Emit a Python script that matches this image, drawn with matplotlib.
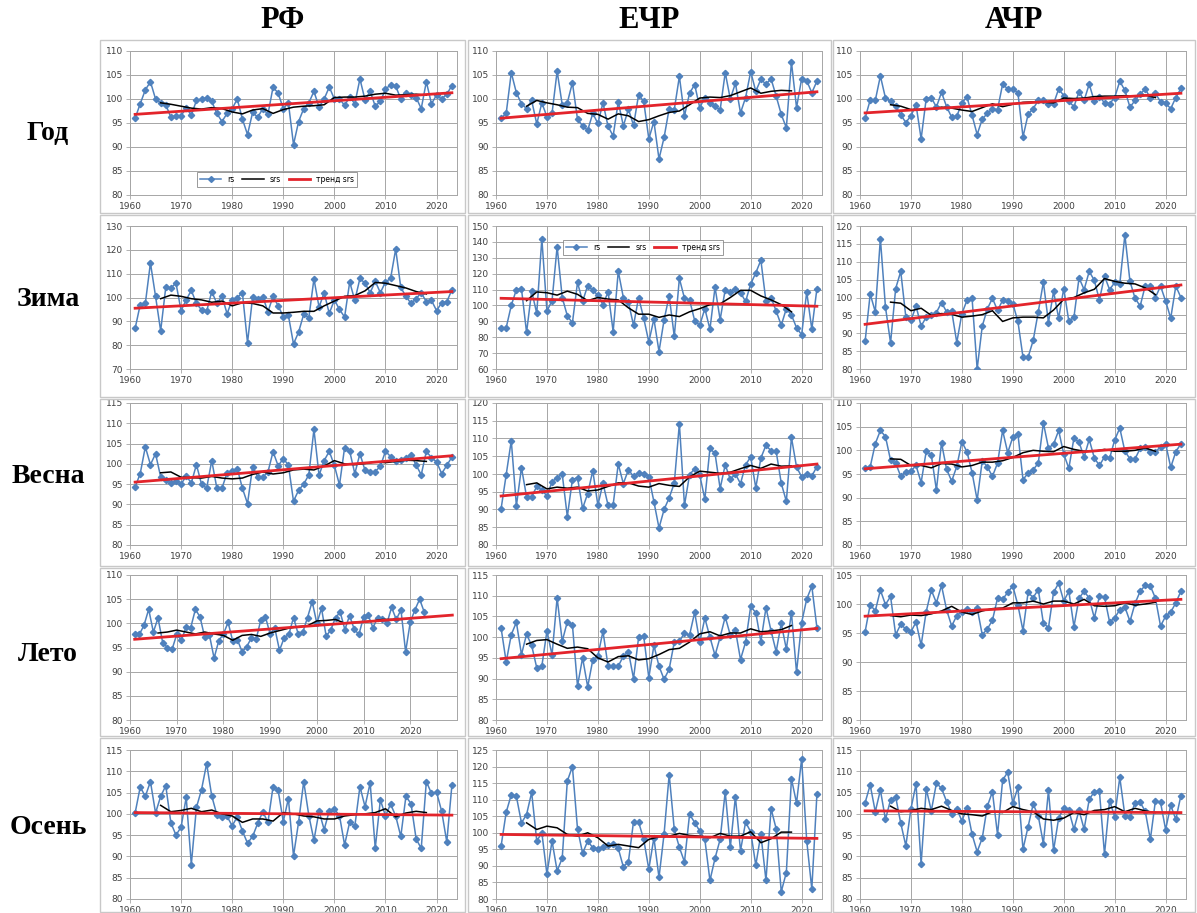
import matplotlib
matplotlib.use("Agg")
import matplotlib.pyplot as plt
from matplotlib.lines import Line2D
from matplotlib.patches import Rectangle

# Годы наблюдений и годы сглаженного ряда
years = list(range(1961, 2024))
srs_years = list(range(1966, 2019, 2))

# ---------- Год ----------
rs_rf_year = [96.0, 99.0, 101.9, 103.6, 100.0, 99.2, 98.8, 96.2, 96.5, 96.5, 98.2, 96.6, 99.7, 100.0, 100.2,
              99.5, 97.0, 95.3, 97.0, 98.0, 100.0, 95.8, 92.6, 97.2, 96.2, 98.0, 96.8, 102.5, 101.2, 98.0,
              99.2, 90.5, 95.3, 98.0, 99.2, 101.6, 98.3, 100.0, 102.5, 100.0, 100.0, 98.7, 100.4, 99.0, 104.2,
              99.8, 101.6, 98.5, 99.5, 102.0, 103.0, 102.7, 100.0, 101.2, 100.8, 100.3, 98.0, 103.6, 99.0, 100.8,
              100.0, 101.0, 102.8]
srs_rf_year = [99.2, 98.9, 98.5, 98.1, 97.9, 98.2, 98.0, 97.3, 96.9, 97.7, 98.0, 97.0, 97.8, 98.3, 98.5,
               98.6, 98.8, 100.3, 100.4, 100.4, 100.6, 101.0, 101.2, 100.8, 100.9, 101.0, 100.8]
trend_rf_year = [96.8, 101.3]

rs_etr_year = [96.0, 97.0, 105.5, 101.3, 99.0, 98.0, 99.7, 94.8, 99.2, 96.3, 97.0, 105.8, 98.8, 99.2, 103.4,
               95.8, 94.4, 93.5, 97.0, 94.9, 99.2, 94.3, 92.3, 99.4, 94.4, 97.9, 94.5, 100.9, 99.5, 91.7,
               95.3, 87.5, 92.0, 98.0, 97.8, 104.7, 96.5, 101.2, 103.0, 98.2, 100.3, 99.2, 98.5, 97.7, 105.5,
               100.0, 103.3, 97.1, 100.3, 105.7, 101.6, 104.1, 103.1, 104.2, 100.6, 96.8, 94.0, 107.7, 98.2, 104.2,
               103.8, 101.3, 103.7]
srs_etr_year = [98.5, 99.7, 99.2, 98.8, 98.3, 98.2, 97.0, 96.8, 95.8, 96.9, 96.5, 95.3, 95.7, 96.5, 97.2,
                97.5, 98.8, 100.2, 100.4, 100.3, 100.7, 101.5, 102.3, 101.2, 101.6, 101.8, 101.7]
trend_etr_year = [96.0, 101.5]

rs_atr_year = [96.0, 99.8, 99.7, 104.8, 100.2, 99.5, 98.5, 96.7, 95.1, 96.5, 98.8, 91.7, 100.1, 100.3, 98.3,
               101.4, 98.4, 96.2, 96.4, 99.2, 100.4, 96.6, 92.6, 95.8, 97.0, 98.0, 97.8, 103.1, 102.1, 102.1,
               101.3, 92.1, 96.8, 98.0, 99.7, 99.7, 99.0, 99.0, 102.1, 100.7, 99.5, 98.4, 101.5, 99.7, 103.1,
               99.5, 100.5, 99.2, 99.0, 100.3, 103.7, 101.8, 98.3, 99.7, 101.0, 102.1, 100.2, 101.2, 99.4, 99.1,
               98.0, 100.3, 102.2]
srs_atr_year = [98.8, 98.5, 97.8, 97.8, 97.9, 98.3, 98.1, 97.7, 97.4, 98.2, 99.0, 98.4, 98.9, 99.3, 99.4,
                99.3, 99.2, 100.2, 100.1, 100.2, 100.5, 100.6, 100.6, 100.7, 100.6, 100.8, 100.3]
trend_atr_year = [97.1, 101.2]

# ---------- Зима ----------
rs_rf_winter = [87.0, 97.0, 97.5, 114.5, 100.5, 86.0, 104.3, 104.0, 106.0, 94.5, 99.0, 103.0, 97.5, 94.8, 94.2,
                102.5, 97.5, 100.5, 93.2, 99.0, 100.0, 102.0, 81.0, 100.3, 99.3, 100.3, 94.0, 100.5, 96.5, 92.0,
                92.5, 80.5, 85.5, 93.0, 91.5, 107.8, 96.0, 102.0, 93.3, 99.0, 95.0, 91.8, 106.5, 98.8, 108.0,
                106.0, 102.0, 106.8, 102.0, 106.5, 108.0, 120.3, 104.2, 100.5, 97.5, 99.5, 102.0, 98.2, 98.8, 94.5,
                97.8, 98.2, 103.2]
srs_rf_winter = [99.5, 101.0, 100.5, 99.5, 99.0, 98.0, 98.5, 96.5, 97.8, 97.5, 96.5, 93.5, 93.5, 93.8, 94.2,
                 94.2, 96.5, 98.5, 100.5, 100.8, 102.8, 106.3, 106.0, 105.0, 104.0, 102.5, 101.5]
trend_rf_winter = [95.5, 102.5]

rs_etr_winter = [85.5, 86.0, 100.0, 110.0, 110.5, 83.0, 109.0, 95.0, 142.0, 96.5, 103.0, 137.0, 105.0, 93.5, 89.0,
                 114.5, 102.5, 112.5, 109.5, 106.5, 100.5, 108.5, 83.5, 121.5, 105.0, 102.0, 87.5, 105.0, 92.0, 77.0,
                 91.5, 71.0, 91.0, 106.0, 80.5, 117.0, 104.5, 103.5, 90.5, 87.5, 98.0, 85.0, 111.5, 91.0, 110.0,
                 108.5, 110.5, 108.0, 102.5, 113.5, 120.5, 128.5, 102.5, 105.0, 96.5, 87.5, 98.0, 94.0, 86.0, 81.5,
                 108.5, 85.0, 110.5]
srs_etr_winter = [103.0, 108.5, 108.0, 106.5, 109.0, 107.0, 103.0, 105.0, 104.0, 103.5, 98.5, 94.5, 94.5, 92.5, 94.0,
                  93.0, 96.0, 98.0, 100.5, 101.0, 105.0, 109.5, 109.5, 106.0, 103.5, 100.5, 96.0]
trend_etr_winter = [104.5, 99.5]

rs_atr_winter = [87.7, 101.0, 96.0, 116.5, 97.3, 87.3, 102.5, 107.3, 94.5, 93.6, 97.6, 92.0, 94.5, 95.0, 95.8,
                 98.6, 96.0, 96.2, 87.4, 95.5, 99.2, 99.8, 80.0, 92.0, 96.8, 99.8, 96.4, 99.2, 98.9, 98.3,
                 93.3, 83.3, 83.3, 88.0, 96.0, 104.3, 93.0, 101.7, 94.2, 102.5, 93.3, 94.5, 105.5, 102.2, 107.3,
                 104.8, 99.3, 106.0, 102.2, 104.2, 103.8, 117.5, 104.5, 99.8, 97.6, 103.3, 103.3, 100.0, 103.2, 99.0,
                 94.2, 103.2, 100.0]
srs_atr_winter = [98.7, 98.4, 96.3, 97.0, 95.0, 95.5, 95.3, 94.5, 94.8, 95.2, 96.3, 93.3, 94.3, 94.5, 94.5,
                  94.3, 96.5, 99.5, 100.0, 101.3, 102.3, 105.3, 104.5, 104.0, 103.8, 102.7, 100.8]
trend_atr_winter = [92.5, 103.5]

# ---------- Весна ----------
rs_rf_spring = [94.3, 97.6, 104.2, 99.8, 102.5, 96.8, 96.0, 95.3, 95.7, 95.0, 97.0, 95.3, 99.8, 95.0, 94.0,
                100.8, 94.0, 94.0, 97.8, 98.2, 98.8, 94.0, 90.2, 99.3, 96.8, 96.7, 98.0, 103.0, 99.5, 101.3,
                99.7, 90.8, 93.5, 95.0, 97.3, 108.5, 97.2, 100.8, 103.1, 99.6, 94.8, 104.0, 103.1, 97.6, 102.5,
                98.4, 97.9, 98.1, 99.4, 103.1, 101.8, 100.8, 101.0, 101.5, 102.3, 99.7, 97.3, 103.1, 101.5, 100.5,
                97.6, 99.6, 101.7]
srs_rf_spring = [97.8, 98.0, 96.7, 96.6, 96.5, 96.9, 96.5, 96.3, 96.5, 97.4, 98.0, 97.5, 97.8, 98.5, 98.7,
                 98.5, 99.5, 100.8, 100.0, 99.8, 100.1, 100.5, 100.3, 100.6, 100.9, 100.8, 100.6]
trend_rf_spring = [95.5, 102.0]

rs_etr_spring = [90.2, 99.8, 109.4, 91.0, 101.8, 93.6, 93.6, 96.5, 95.5, 93.8, 97.8, 99.0, 100.0, 88.0, 98.4,
                 99.0, 90.3, 94.5, 100.9, 91.2, 97.4, 91.2, 91.4, 102.8, 97.3, 101.2, 99.3, 100.4, 100.1, 99.2,
                 92.2, 84.8, 90.0, 93.3, 97.4, 114.2, 91.2, 99.8, 101.5, 99.7, 92.9, 107.2, 105.8, 95.9, 102.6,
                 98.5, 100.0, 97.3, 102.6, 104.8, 96.1, 104.5, 108.1, 106.5, 106.4, 97.4, 92.3, 110.3, 102.0, 99.2,
                 100.0, 99.4, 102.1]
srs_etr_spring = [97.0, 97.5, 95.8, 96.3, 96.0, 96.3, 95.2, 95.5, 96.5, 97.5, 97.5, 96.6, 96.3, 97.3, 96.8,
                  96.5, 99.2, 100.8, 100.5, 100.2, 100.5, 101.5, 102.4, 101.6, 102.8, 102.2, 102.3]
trend_etr_spring = [93.8, 102.8]

rs_atr_spring = [96.2, 96.5, 101.4, 104.2, 102.9, 97.9, 97.3, 94.5, 95.5, 95.6, 96.8, 93.2, 99.8, 99.0, 91.6,
                 101.6, 96.0, 93.5, 96.6, 101.8, 99.7, 95.3, 89.5, 97.8, 96.5, 94.5, 97.3, 104.2, 99.5, 102.8,
                 103.5, 93.8, 95.2, 95.9, 97.3, 105.8, 100.5, 101.3, 104.2, 99.2, 96.2, 102.6, 101.7, 98.6, 102.3,
                 98.4, 96.8, 98.6, 98.3, 102.2, 104.7, 99.8, 98.2, 98.2, 100.4, 100.8, 99.6, 99.6, 100.8, 101.4,
                 96.4, 99.7, 101.4]
srs_atr_spring = [98.2, 98.1, 96.8, 96.8, 96.3, 97.2, 97.1, 96.5, 96.8, 97.5, 97.5, 97.8, 98.5, 99.5, 100.0,
                  99.8, 99.7, 100.8, 100.2, 99.8, 99.8, 100.2, 99.8, 99.8, 100.0, 100.5, 99.8]
trend_atr_spring = [96.1, 101.3]

# ---------- Лето ----------
rs_rf_summer = [97.8, 97.7, 99.6, 102.9, 98.2, 101.1, 96.0, 95.0, 94.6, 97.7, 96.5, 99.2, 99.1, 102.9, 101.3,
                97.1, 97.6, 92.8, 96.4, 97.8, 100.2, 96.3, 96.6, 94.1, 95.2, 97.0, 96.7, 100.7, 101.3, 97.8,
                99.0, 94.4, 97.0, 97.7, 101.2, 97.8, 98.2, 101.2, 104.5, 100.0, 103.1, 97.3, 98.7, 101.2, 102.3,
                98.7, 101.6, 98.8, 97.7, 101.3, 101.7, 99.1, 101.1, 101.0, 100.0, 103.3, 100.8, 102.8, 94.1, 100.3,
                102.8, 105.0, 102.3]
srs_rf_summer = [98.0, 98.2, 98.6, 98.2, 97.8, 98.2, 97.8, 97.5, 96.5, 97.5, 97.7, 97.3, 98.0, 98.5, 99.0,
                 99.3, 99.5, 100.5, 100.6, 100.8, 100.0, 100.2, 100.3, 100.5, 100.8, 100.8, 100.8]
trend_rf_summer = [96.7, 101.7]

rs_etr_summer = [102.2, 94.0, 100.6, 103.6, 95.8, 100.7, 98.0, 92.6, 93.0, 101.5, 95.7, 109.5, 99.0, 103.7, 103.0,
                 88.2, 95.0, 88.0, 94.5, 95.5, 101.4, 93.0, 93.0, 93.0, 95.4, 96.5, 90.0, 100.0, 100.2, 90.2,
                 98.0, 93.0, 89.8, 92.3, 98.8, 99.0, 101.0, 100.5, 106.0, 98.8, 104.6, 100.0, 95.6, 100.0, 104.9,
                 100.5, 101.7, 94.6, 98.8, 107.4, 105.9, 98.9, 107.1, 101.5, 96.5, 103.3, 97.1, 105.9, 91.5, 103.5,
                 109.2, 112.3, 102.3]
srs_etr_summer = [98.3, 99.2, 99.4, 98.3, 97.3, 97.6, 97.2, 95.0, 94.0, 95.3, 95.5, 94.5, 94.8, 95.8, 97.0,
                  97.3, 98.8, 100.8, 101.3, 100.3, 101.0, 101.0, 102.0, 101.3, 101.5, 101.8, 102.8]
trend_etr_summer = [94.8, 102.1]

rs_atr_summer = [95.2, 99.9, 98.8, 102.4, 99.9, 101.3, 94.7, 96.5, 95.7, 95.2, 96.9, 92.9, 98.7, 102.4, 100.2,
                 103.2, 99.0, 96.2, 98.0, 98.7, 99.1, 98.6, 99.3, 94.7, 95.7, 97.2, 101.0, 100.8, 102.0, 103.1,
                 99.8, 95.4, 102.0, 101.1, 102.5, 96.7, 95.9, 102.0, 103.6, 100.5, 102.2, 96.1, 101.0, 102.2, 101.0,
                 97.6, 101.3, 101.2, 96.9, 97.6, 99.0, 99.5, 97.0, 100.1, 102.2, 103.2, 103.1, 101.0, 96.2, 97.9,
                 98.6, 100.2, 102.2]
srs_atr_summer = [98.0, 97.8, 98.1, 98.0, 98.3, 98.8, 99.6, 98.6, 98.2, 98.8, 99.2, 99.3, 100.2, 100.2, 100.5,
                  100.0, 100.5, 100.5, 100.0, 100.8, 99.7, 99.6, 99.7, 100.2, 99.8, 100.0, 100.3]
trend_atr_summer = [97.9, 100.8]

# ---------- Осень ----------
rs_rf_autumn = [100.2, 106.3, 104.1, 107.6, 100.2, 104.1, 106.6, 97.9, 95.0, 96.9, 103.9, 88.1, 101.5, 105.7, 111.8,
                104.2, 99.8, 99.3, 99.4, 97.2, 99.3, 96.0, 93.1, 94.7, 97.8, 100.5, 98.0, 106.4, 105.5, 98.2,
                103.6, 90.1, 98.1, 107.6, 99.6, 93.8, 100.6, 96.3, 100.7, 101.1, 99.6, 92.7, 98.1, 97.1, 106.4,
                101.7, 107.3, 91.9, 103.3, 99.5, 102.3, 99.5, 94.7, 104.1, 102.4, 94.1, 91.9, 107.6, 104.8, 105.1,
                100.6, 93.4, 106.7]
srs_rf_autumn = [102.0, 100.5, 100.8, 101.3, 100.5, 100.9, 100.0, 99.5, 98.0, 98.8, 98.8, 98.3, 100.3, 100.0, 99.5,
                 99.3, 98.8, 98.8, 99.5, 99.8, 100.0, 100.3, 101.2, 99.3, 100.2, 100.6, 100.3]
trend_rf_autumn = [100.3, 99.7]

rs_etr_autumn = [96.0, 106.2, 111.5, 111.0, 103.0, 105.5, 112.2, 97.5, 100.0, 87.5, 97.5, 88.5, 92.3, 115.6, 120.0,
                 101.2, 93.8, 97.5, 95.5, 95.2, 95.8, 96.3, 96.6, 95.3, 89.7, 91.3, 103.4, 103.2, 98.0, 89.0,
                 98.5, 86.5, 99.7, 117.6, 101.0, 95.6, 91.2, 105.6, 103.1, 100.5, 98.0, 85.6, 92.3, 98.0, 112.4,
                 95.6, 110.9, 94.6, 103.2, 100.3, 90.2, 99.6, 85.6, 107.3, 101.2, 82.2, 88.0, 116.3, 109.0, 122.3,
                 97.6, 83.0, 111.6]
srs_etr_autumn = [103.0, 101.0, 102.0, 101.5, 99.5, 99.0, 100.0, 98.5, 96.0, 96.5, 96.0, 95.5, 98.0, 98.8, 99.0,
                  99.8, 99.2, 99.0, 98.5, 99.8, 99.0, 99.0, 100.3, 97.0, 98.2, 100.2, 100.2]
trend_etr_autumn = [99.5, 98.3]

rs_atr_autumn = [102.6, 106.8, 100.5, 105.6, 98.7, 103.3, 104.0, 97.8, 92.5, 101.2, 107.0, 88.2, 105.9, 100.7, 107.2,
                 106.0, 102.9, 100.0, 101.1, 98.4, 101.3, 95.2, 91.1, 94.3, 101.8, 105.2, 95.1, 107.9, 109.8, 102.5,
                 106.2, 91.7, 97.0, 102.3, 99.5, 93.0, 105.5, 91.4, 99.0, 101.4, 100.8, 96.4, 100.8, 96.4, 103.4,
                 105.2, 105.3, 90.5, 103.1, 99.3, 108.6, 99.6, 99.3, 102.6, 102.7, 100.6, 94.0, 103.1, 102.7, 96.3,
                 102.0, 98.7, 104.3]
srs_atr_autumn = [101.8, 100.5, 100.8, 101.3, 101.0, 101.8, 100.8, 100.0, 99.8, 99.5, 100.5, 100.3, 101.7, 101.0, 100.5,
                  98.8, 98.5, 99.0, 100.3, 99.8, 100.8, 101.0, 101.7, 100.5, 101.3, 100.7, 100.3]
trend_atr_autumn = [100.7, 100.3]

col_titles = ["РФ", "ЕЧР", "АЧР"]
row_titles = ["Год", "Зима", "Весна", "Лето", "Осень"]

# Таблица панелей: (rs, srs, тренд, ymin, ymax, шаг)
panels = [
    [(rs_rf_year, srs_rf_year, trend_rf_year, 80, 110, 5),
     (rs_etr_year, srs_etr_year, trend_etr_year, 80, 110, 5),
     (rs_atr_year, srs_atr_year, trend_atr_year, 80, 110, 5)],
    [(rs_rf_winter, srs_rf_winter, trend_rf_winter, 70, 130, 10),
     (rs_etr_winter, srs_etr_winter, trend_etr_winter, 60, 150, 10),
     (rs_atr_winter, srs_atr_winter, trend_atr_winter, 80, 120, 5)],
    [(rs_rf_spring, srs_rf_spring, trend_rf_spring, 80, 115, 5),
     (rs_etr_spring, srs_etr_spring, trend_etr_spring, 80, 120, 5),
     (rs_atr_spring, srs_atr_spring, trend_atr_spring, 80, 110, 5)],
    [(rs_rf_summer, srs_rf_summer, trend_rf_summer, 80, 110, 5),
     (rs_etr_summer, srs_etr_summer, trend_etr_summer, 80, 115, 5),
     (rs_atr_summer, srs_atr_summer, trend_atr_summer, 80, 105, 5)],
    [(rs_rf_autumn, srs_rf_autumn, trend_rf_autumn, 80, 115, 5),
     (rs_etr_autumn, srs_etr_autumn, trend_etr_autumn, 80, 125, 5),
     (rs_atr_autumn, srs_atr_autumn, trend_atr_autumn, 80, 115, 5)],
]

# Раскладка в пикселях исходной картинки
W, H = 1197, 913
box_x = [(100, 465), (468, 831), (833, 1195)]
box_y = [(40, 213), (215, 397), (399, 566), (568, 736), (738, 912)]
plot_x = [(130, 457), (496, 822), (860, 1186)]
plot_y = [(51, 195), (226, 369), (403, 545), (575, 720), (750, 899)]

BLUE = "#4f81bd"
RED = "#e3242b"

fig = plt.figure(figsize=(W / 100, H / 100), dpi=100)
fig.patch.set_facecolor("white")


def fig_rect(x0, y0, x1, y1):
    return [x0 / W, 1 - y1 / H, (x1 - x0) / W, (y1 - y0) / H]


def draw_panel(ax, rs, srs, trend, ymin, ymax, step, x_max, trend_end):
    ax.plot(years, rs, color=BLUE, lw=1.1, marker="D", ms=3.2, mec=BLUE, zorder=3)
    ax.plot(srs_years, srs, color="black", lw=1.1, zorder=4)
    ax.plot([years[0], trend_end], trend, color=RED, lw=2.0, zorder=5)
    ax.set_xlim(1960, x_max)
    ax.set_ylim(ymin, ymax)
    ax.set_xticks(range(1960, 2021, 10))
    ax.set_yticks(range(ymin, ymax + 1, step))
    ax.grid(True, color="#a6a6a6", lw=0.7)
    ax.set_axisbelow(True)
    ax.tick_params(labelsize=6.5, labelcolor="#404040", length=3, width=0.6, color="#a6a6a6", pad=2)
    for s in ax.spines.values():
        s.set_color("#a6a6a6")
        s.set_linewidth(0.7)


for r in range(5):
    for c in range(3):
        bx0, bx1 = box_x[c]
        by0, by1 = box_y[r]
        fig.add_artist(Rectangle((bx0 / W, 1 - by1 / H), (bx1 - bx0) / W, (by1 - by0) / H,
                                 transform=fig.transFigure, fill=False, ec="#c8c8c8", lw=1.0))
        px0, px1 = plot_x[c]
        py0, py1 = plot_y[r]
        ax = fig.add_axes(fig_rect(px0, py0, px1, py1))
        rs, srs, trend, ymin, ymax, step = panels[r][c]
        # летний ряд РФ имеет более длинную ось и продлённый тренд
        if r == 3 and c == 0:
            draw_panel(ax, rs, srs, trend, ymin, ymax, step, 2030, 2029)
        else:
            draw_panel(ax, rs, srs, trend, ymin, ymax, step, 2024, 2023)

        # легенды на двух панелях
        if (r, c) in [(0, 0), (1, 1)]:
            handles = [Line2D([], [], color=BLUE, lw=1.1, marker="D", ms=3),
                       Line2D([], [], color="black", lw=1.1),
                       Line2D([], [], color=RED, lw=2.0)]
            if r == 0:
                leg = ax.legend(handles, ["rs", "srs", "тренд srs"], loc="lower center",
                                bbox_to_anchor=(0.45, 0.03), ncol=3, fontsize=5.5,
                                frameon=True, fancybox=False, handlelength=2.8,
                                columnspacing=1.0, borderpad=0.4)
            else:
                leg = ax.legend(handles, ["rs", "srs", "тренд srs"], loc="upper center",
                                bbox_to_anchor=(0.45, 0.93), ncol=3, fontsize=5.5,
                                frameon=True, fancybox=False, handlelength=2.8,
                                columnspacing=1.0, borderpad=0.4)
            leg.get_frame().set_edgecolor("#808080")
            leg.get_frame().set_linewidth(0.7)

# Заголовки столбцов и строк
for c in range(3):
    cx = (box_x[c][0] + box_x[c][1]) / 2
    fig.text(cx / W, 1 - 20 / H, col_titles[c], ha="center", va="center",
             family="Liberation Serif", fontweight="bold", fontsize=22)

row_y = [133, 300, 476, 654, 827]
for r in range(5):
    fig.text(48 / W, 1 - row_y[r] / H, row_titles[r], ha="center", va="center",
             family="Liberation Serif", fontweight="bold", fontsize=20)

fig.savefig("out.png", dpi=100)
